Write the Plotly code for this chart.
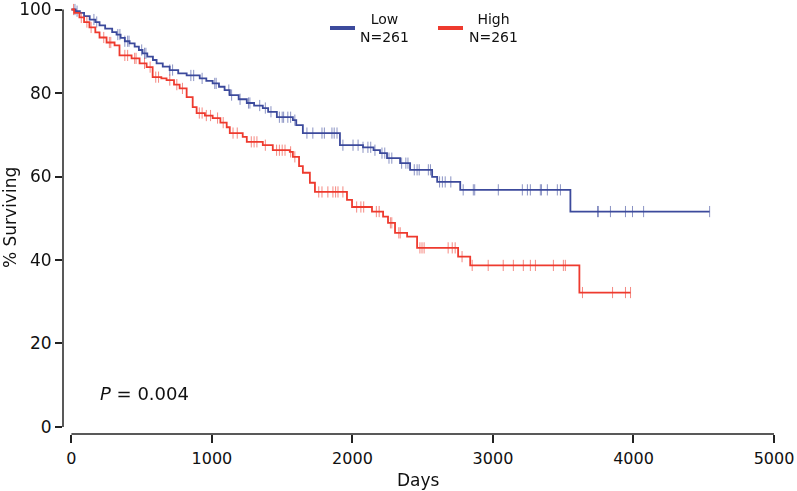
import numpy as np
import plotly.graph_objects as go

# ---- data ----
low_times = [0, 30, 60, 90, 130, 170, 200, 240, 290, 321, 350, 380, 414, 450, 480, 506, 540, 580, 606,
             650, 699, 760, 820, 913, 960, 1005, 1050, 1090, 1127, 1190, 1248, 1300, 1362, 1400, 1462,
             1576, 1600, 1647, 1911, 2075, 2150, 2196, 2246, 2339, 2410, 2567, 2603, 2767, 3551]
low_surv = [100, 99.6, 99.2, 98.4, 97.6, 97.0, 96.2, 95.4, 94.6, 94.0, 93.2, 92.4, 91.9, 91.1, 90.3, 89.5,
            88.7, 87.9, 87.1, 86.3, 85.5, 84.7, 84.2, 83.5, 82.9, 82.3, 81.5, 80.7, 79.5, 78.5, 77.6, 77.0,
            76.4, 75.5, 74.2, 73.5, 72.3, 70.4, 67.5, 67.0, 66.3, 65.6, 64.4, 63.2, 61.6, 59.9, 58.7, 56.8, 51.6]
low_censor = [25, 40, 160, 180, 330, 345, 380, 400, 410, 500, 520, 530, 700, 720, 850, 870, 930, 1020, 1030,
              1120, 1140, 1200, 1260, 1270, 1340, 1380, 1420, 1480, 1500, 1510, 1540, 1560, 1590, 1676, 1718,
              1783, 1800, 1854, 1870, 1890, 1932, 2004, 2040, 2075, 2110, 2130, 2160, 2210, 2230, 2260, 2280,
              2350, 2380, 2395, 2440, 2460, 2475, 2540, 2555, 2620, 2640, 2660, 2700, 2788, 2860, 2870, 3038,
              3209, 3245, 3266, 3337, 3345, 3387, 3458, 3480, 3744, 3750, 3836, 3943, 3993, 4072, 4542]

high_times = [0, 20, 57, 90, 128, 170, 200, 250, 307, 342, 428, 485, 535, 578, 640, 677, 730, 770, 820, 863,
              891, 950, 1005, 1060, 1105, 1127, 1219, 1248, 1362, 1433, 1554, 1576, 1620, 1647, 1697, 1733,
              1961, 1997, 2139, 2218, 2253, 2303, 2389, 2460, 2752, 2838, 3615]
high_surv = [100, 99.2, 98.1, 97.0, 95.7, 94.5, 93.3, 92.1, 91.4, 89.0, 88.3, 87.1, 86.2, 83.8, 83.5, 83.1,
             82.0, 81.1, 79.0, 76.6, 75.2, 74.6, 74.0, 72.9, 71.8, 70.4, 69.5, 68.3, 67.5, 66.3, 65.9, 64.7,
             62.5, 60.9, 58.5, 56.3, 54.4, 52.7, 51.6, 50.4, 48.9, 46.5, 45.6, 42.9, 40.8, 38.7, 32.2]
high_censor = [15, 70, 110, 140, 230, 270, 280, 380, 400, 450, 460, 520, 560, 600, 620, 700, 750, 790, 910,
               930, 960, 990, 1040, 1080, 1150, 1180, 1280, 1300, 1320, 1380, 1460, 1480, 1500, 1520, 1560,
               1590, 1760, 1783, 1825, 1861, 1880, 1897, 1932, 2030, 2060, 2080, 2170, 2190, 2270, 2280, 2330,
               2340, 2480, 2495, 2510, 2681, 2710, 2731, 2780, 2852, 2966, 3073, 3145, 3216, 3266, 3302, 3430,
               3501, 3515, 3637, 3851, 3943, 3979]

group_names = ["Low", "High"]
group_n = [261, 261]
p_value = "0.004"
x_title = "Days"
y_title = "% Surviving"
x_ticks = [0, 1000, 2000, 3000, 4000, 5000]
y_ticks = [0, 20, 40, 60, 80, 100]

BLUE = "#3c4a9c"
RED = "#ee3a2e"
FONT = "DejaVu Sans, sans-serif"


def step_lookup(times, surv, t):
    idx = np.searchsorted(np.asarray(times), np.asarray(t), side="right") - 1
    return np.asarray(surv)[idx]


fig = go.Figure()
for times, surv, cens, color, name in [
    (low_times, low_surv, low_censor, BLUE, group_names[0]),
    (high_times, high_surv, high_censor, RED, group_names[1]),
]:
    end = max(cens)
    xs = list(times) + [end]
    ys = list(surv) + [surv[-1]]
    fig.add_trace(go.Scatter(x=xs, y=ys, mode="lines", line=dict(color=color, width=1.8, shape="hv"),
                             name=name, showlegend=False, hoverinfo="skip"))
    fig.add_trace(go.Scatter(x=cens, y=step_lookup(times, surv, cens), mode="markers",
                             marker=dict(symbol="line-ns", size=8, color=color,
                                         line=dict(color=color, width=1)),
                             opacity=0.6, showlegend=False, hoverinfo="skip", cliponaxis=False))

# offset spines (matplotlib style)
fig.add_shape(type="line", xref="paper", yref="y", x0=0, x1=0, y0=0, y1=100,
              line=dict(color="#222", width=1.5))
fig.add_shape(type="line", xref="x", yref="paper", x0=0, x1=5000, y0=0, y1=0,
              line=dict(color="#222", width=1.5))

# legend drawn like the reference (swatch + centred two-line label)
leg_x = [0.3755, 0.5274]
leg_tx = [0.452, 0.6048]
for i, color in enumerate([BLUE, RED]):
    fig.add_shape(type="line", xref="paper", yref="paper", x0=leg_x[i], x1=leg_x[i] + 0.0352,
                  y0=0.9464, y1=0.9464, line=dict(color=color, width=4))
    fig.add_annotation(xref="paper", yref="paper", x=leg_tx[i], y=0.9464,
                       text=f"{group_names[i]}<br>N={group_n[i]}", showarrow=False, align="center",
                       xanchor="center", yanchor="middle", font=dict(size=14, color="#111", family=FONT))

fig.add_annotation(xref="paper", yref="paper", x=0.1153, y=0.095, text=f"<i>P</i> = {p_value}",
                   showarrow=False, xanchor="center", yanchor="middle",
                   font=dict(size=18, color="#111", family=FONT))

# axis titles
fig.add_annotation(xref="paper", yref="paper", x=0.4993, y=-0.1072, text=x_title, showarrow=False,
                   xanchor="center", yanchor="middle", font=dict(size=17, color="#111", family=FONT))
fig.add_annotation(xref="paper", yref="paper", x=-0.0745, y=0.5035, text=y_title, showarrow=False,
                   textangle=-90, xanchor="center", yanchor="middle",
                   font=dict(size=17, color="#111", family=FONT))

fig.update_layout(
    width=797, height=491,
    margin=dict(l=63, r=23, t=5, b=57),
    paper_bgcolor="white", plot_bgcolor="white",
    font=dict(family=FONT, size=16, color="#111"),
    xaxis=dict(range=[-60, 5000], tickvals=x_ticks, ticks="outside", ticklen=8, tickwidth=1.5,
               tickcolor="#222", showgrid=False, zeroline=False, showline=False, automargin=False,
               ticklabeloverflow="allow", ticklabelstandoff=2),
    yaxis=dict(range=[-1.68, 101.08], tickvals=y_ticks, ticks="outside", ticklen=7, tickwidth=1.5,
               tickcolor="#222", showgrid=False, zeroline=False, showline=False, automargin=False,
               ticklabeloverflow="allow", tickfont=dict(size=17)),
)

fig.write_html("out.html", config={"displayModeBar": False},
               post_script="document.body.style.margin='0px';")
